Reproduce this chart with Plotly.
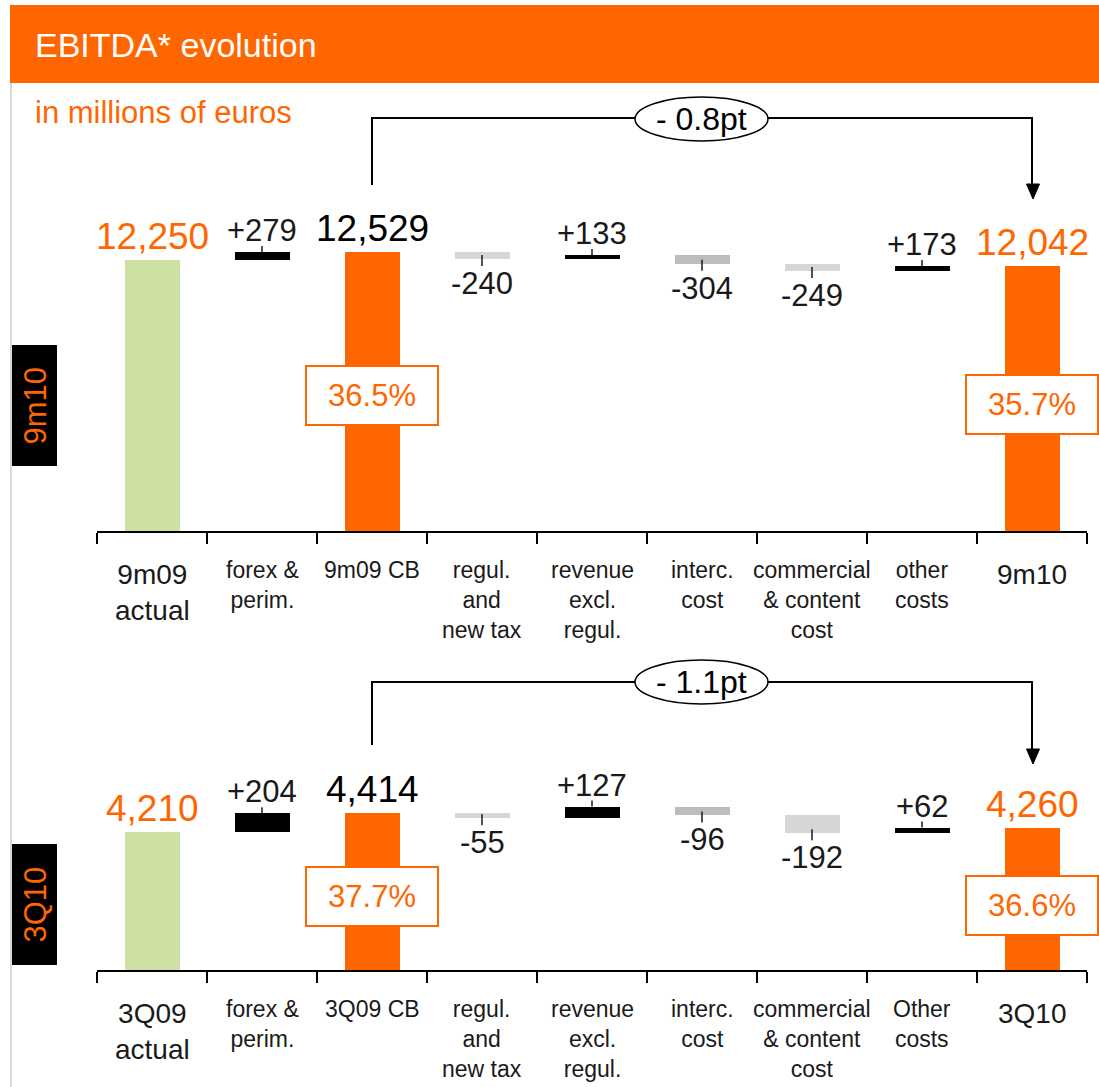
import plotly.graph_objects as go

W, H = 1099, 1087
ORANGE = "#ff6600"
GREEN = "#cce0a4"
BLACK = "#000000"
LGRAY = "#d6d6d6"
MGRAY = "#bdbdbd"
TXT = "#1a1a1a"
FONT = "Liberation Sans, Arial, sans-serif"

# ---------------- data ----------------
categories_top = ["9m09<br>actual", "forex &<br>perim.", "9m09 CB", "regul.<br>and<br>new tax",
                  "revenue<br>excl.<br>regul.", "interc.<br>cost", "commercial<br>& content<br>cost",
                  "other<br>costs", "9m10"]
categories_bot = ["3Q09<br>actual", "forex &<br>perim.", "3Q09 CB", "regul.<br>and<br>new tax",
                  "revenue<br>excl.<br>regul.", "interc.<br>cost", "commercial<br>& content<br>cost",
                  "Other<br>costs", "3Q10"]
measures = ["total", "delta", "total", "delta", "delta", "delta", "delta", "delta", "total"]
values_top = [12250, 279, 12529, -240, 133, -304, -249, 173, 12042]
values_bot = [4210, 204, 4414, -55, 127, -96, -192, 62, 4260]
margins_top = ["36.5%", "35.7%"]
margins_bot = ["37.7%", "36.6%"]
change_top = "- 0.8pt"
change_bot = "- 1.1pt"
panel_top = "9m10"
panel_bot = "3Q10"

bar_colors = [GREEN, BLACK, ORANGE, LGRAY, BLACK, MGRAY, LGRAY, BLACK, ORANGE]
total_label_colors = [ORANGE, None, BLACK, None, None, None, None, None, ORANGE]


def px(x):
    return x / W


def py(y):
    return 1 - y / H


def waterfall(values):
    bases, heights, tops, bottoms = [], [], [], []
    running = None
    for v, m in zip(values, measures):
        if m == "total":
            bases.append(0)
            heights.append(v)
            running = v
            tops.append(v)
            bottoms.append(v)
        else:
            new = running + v
            lo, hi = min(running, new), max(running, new)
            bases.append(lo)
            heights.append(hi - lo)
            tops.append(hi)
            bottoms.append(lo)
            running = new
    return bases, heights, tops, bottoms


fig = go.Figure()
shapes = []
annotations = []

panels = [
    dict(cats=categories_top, vals=values_top, margins=margins_top, change=change_top, label=panel_top,
         xa="x", ya="y", base_px=531, top_px=190, yr=[2798, 14692],
         box_y=[396, 404], bracket=(185, 118, 199), ell=(97, 141), side=(345, 466)),
    dict(cats=categories_bot, vals=values_bot, margins=margins_bot, change=change_bot, label=panel_bot,
         xa="x2", ya="y2", base_px=970, top_px=760, yr=[2730, 4986],
         box_y=[896, 905], bracket=(745, 682, 764), ell=(660, 704), side=(844, 965)),
]

for k, p in enumerate(panels):
    n = len(p["vals"])
    xs = list(range(n))
    bases, heights, tops, bottoms = waterfall(p["vals"])
    fig.add_trace(go.Bar(x=xs, y=heights, base=bases, width=0.5,
                         marker=dict(color=bar_colors, line=dict(width=0)),
                         xaxis=p["xa"], yaxis=p["ya"], showlegend=False, hoverinfo="skip"))
    xref, yref = p["xa"], p["ya"]
    for i, (v, m) in enumerate(zip(p["vals"], measures)):
        if m == "total":
            annotations.append(dict(x=i, y=tops[i], xref=xref, yref=yref, text=f"{v:,}",
                                    showarrow=False, xanchor="center", yanchor="bottom", yshift=1,
                                    font=dict(size=37, color=total_label_colors[i], family=FONT)))
        elif v > 0:
            annotations.append(dict(x=i, y=tops[i], xref=xref, yref=yref, text=f"{v:+d}",
                                    showarrow=False, xanchor="center", yanchor="bottom", yshift=2,
                                    font=dict(size=31, color=TXT, family=FONT)))
            shapes.append(dict(type="line", xref=xref, yref=yref, x0=i, x1=i, ysizemode="pixel",
                               yanchor=tops[i], y0=0, y1=6, line=dict(color=TXT, width=1.5)))
        else:
            annotations.append(dict(x=i, y=bottoms[i], xref=xref, yref=yref, text=f"{v:+d}",
                                    showarrow=False, xanchor="center", yanchor="top", yshift=-5,
                                    font=dict(size=31, color=TXT, family=FONT)))
            shapes.append(dict(type="line", xref=xref, yref=yref, x0=i, x1=i, ysizemode="pixel",
                               yanchor=bottoms[i], y0=-7, y1=4, line=dict(color=TXT, width=1.5)))
        big = m == "total" and i != 2
        annotations.append(dict(x=i, y=py(p["base_px"]), xref=xref, yref="paper", text=p["cats"][i],
                                showarrow=False, xanchor="center", yanchor="top",
                                yshift=-(26 if big else 24),
                                font=dict(size=28 if big else 23, color=TXT, family=FONT)))
    # margin boxes
    for j, idx in enumerate([2, n - 1]):
        annotations.append(dict(x=idx, y=py(p["box_y"][j]), xref=xref, yref="paper",
                                text=p["margins"][j], showarrow=False, width=124, height=51,
                                xanchor="center", yanchor="middle",
                                bgcolor="white", bordercolor=ORANGE, borderwidth=2, borderpad=3,
                                font=dict(size=31, color=ORANGE, family=FONT)))
    # bracket with arrow
    y_start, y_top, y_head = p["bracket"]
    shapes.append(dict(type="path", xref=xref, yref="paper", layer="above",
                       path=f"M 2,{py(y_start)} L 2,{py(y_top)} L {n-1},{py(y_top)} L {n-1},{py(y_head-10)}",
                       line=dict(color=BLACK, width=2)))
    shapes.append(dict(type="path", xref="paper", yref="paper", layer="above",
                       path=f"M {px(1026.5)},{py(y_head-15)} L {px(1039.5)},{py(y_head-15)} L {px(1033)},{py(y_head)} Z",
                       fillcolor=BLACK, line=dict(color=BLACK, width=1)))
    e0, e1 = p["ell"]
    shapes.append(dict(type="circle", xref="paper", yref="paper", layer="above",
                       x0=px(635), x1=px(768), y0=py(e1), y1=py(e0),
                       fillcolor="white", line=dict(color=BLACK, width=1.5)))
    annotations.append(dict(x=px(701), y=py((e0 + e1) / 2), xref="paper", yref="paper",
                            text=p["change"], showarrow=False, xanchor="center", yanchor="middle",
                            font=dict(size=32, color=BLACK, family=FONT)))
    # side label
    s0, s1 = p["side"]
    shapes.append(dict(type="rect", xref="paper", yref="paper", x0=px(12), x1=px(57),
                       y0=py(s1), y1=py(s0), fillcolor=BLACK, line=dict(width=0)))
    annotations.append(dict(x=px(35), y=py((s0 + s1) / 2), xref="paper", yref="paper",
                            text=p["label"], textangle=-90, showarrow=False,
                            xanchor="center", yanchor="middle",
                            font=dict(size=31, color=ORANGE, family=FONT)))

# header
shapes.insert(0, dict(type="rect", xref="paper", yref="paper", x0=px(10), x1=1, y0=py(83), y1=py(5),
                      fillcolor=ORANGE, line=dict(width=0), layer="below"))
shapes.insert(0, dict(type="line", xref="paper", yref="paper", x0=px(11), x1=px(11), y0=0, y1=py(83),
                      line=dict(color="#d9d9d9", width=2), layer="below"))
annotations.append(dict(x=px(33), y=py(45), xref="paper", yref="paper", text="EBITDA* evolution",
                        xanchor="left", yanchor="middle", showarrow=False,
                        font=dict(size=34, color="white", family=FONT)))
annotations.append(dict(x=px(33), y=py(112), xref="paper", yref="paper", text="in millions of euros",
                        xanchor="left", yanchor="middle", showarrow=False,
                        font=dict(size=31, color=ORANGE, family=FONT)))

xaxis_common = dict(range=[-0.5, 8.5], tickvals=[i - 0.5 for i in range(10)], ticks="outside",
                    ticklen=11, tickwidth=2, tickcolor=BLACK, showline=True, linewidth=2,
                    linecolor=BLACK, showticklabels=False, showgrid=False, zeroline=False,
                    fixedrange=True)
yaxis_common = dict(visible=False, showgrid=False, zeroline=False, fixedrange=True)

p0, p1 = panels
fig.update_layout(
    width=W, height=H, autosize=False,
    margin=dict(l=0, r=0, t=0, b=0),
    paper_bgcolor="white", plot_bgcolor="white",
    bargap=0,
    xaxis=dict(domain=[px(97), px(1087)], anchor="y", **xaxis_common),
    yaxis=dict(domain=[py(p0["base_px"]), py(p0["top_px"])], range=p0["yr"], anchor="x", **yaxis_common),
    xaxis2=dict(domain=[px(97), px(1087)], anchor="y2", **xaxis_common),
    yaxis2=dict(domain=[py(p1["base_px"]), py(p1["top_px"])], range=p1["yr"], anchor="x2", **yaxis_common),
    shapes=shapes,
    annotations=annotations,
    showlegend=False,
)

fig.write_html("out.html", config={"displayModeBar": False},
               post_script="document.body.style.margin='0';")
